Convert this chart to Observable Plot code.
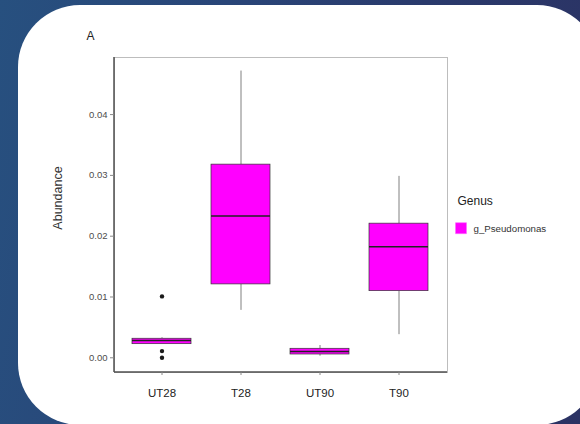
<!DOCTYPE html>
<html><head><meta charset="utf-8">
<script src="https://cdn.jsdelivr.net/npm/d3@7"></script>
<script src="https://cdn.jsdelivr.net/npm/@observablehq/plot@0.6"></script>
<style>
html,body{margin:0;padding:0;}
body{width:580px;height:424px;overflow:hidden;position:relative;
  background:linear-gradient(100deg,#27507f 0%,#294578 35%,#2a3a6c 65%,#2b3263 100%);}
#card{position:absolute;left:18px;top:5px;width:581px;height:420px;background:#fff;border-radius:62px;}
#chart{position:absolute;left:0;top:0;}
</style></head>
<body><div id="card"></div><div id="chart"></div>
<script>
const groups = ["UT28", "T28", "UT90", "T90"];
const whiskerLow = [0.00224, 0.0078, 0.00026, 0.0038];
const q1 = [0.00224, 0.01207, 0.00054, 0.01096];
const median = [0.00285, 0.02331, 0.00104, 0.01827];
const q3 = [0.00313, 0.03177, 0.00148, 0.02206];
const whiskerHigh = [0.0033, 0.04716, 0.00202, 0.02984];
const outlierGroup = ["UT28", "UT28", "UT28"];
const outlierValue = [0.0101, 0.0011, 0.0];
const yTicks = [0, 0.01, 0.02, 0.03, 0.04];
const genus = "g_Pseudomonas";
const titleText = "A";
const yLabel = "Abundance";
const legendTitle = "Genus";

const boxes = groups.map((g, i) => ({g, lo: whiskerLow[i], q1: q1[i], med: median[i], q3: q3[i], hi: whiskerHigh[i]}));
const outliers = outlierGroup.map((g, i) => ({g, v: outlierValue[i]}));
const font = "'Liberation Sans', Arial, sans-serif";

const axisLines = (index, scales, values, dims) => {
  const g = d3.create("svg:g").attr("stroke", "#505050").attr("stroke-width", 1.5);
  const x0 = dims.marginLeft, y1 = dims.height - dims.marginBottom;
  g.append("line").attr("x1", x0).attr("x2", x0).attr("y1", dims.marginTop).attr("y2", y1);
  g.append("line").attr("x1", x0).attr("x2", dims.width - dims.marginRight).attr("y1", y1).attr("y2", y1);
  return g.node();
};

const plot = Plot.plot({
  width: 580, height: 424,
  marginLeft: 114, marginRight: 133, marginTop: 57, marginBottom: 52,
  style: {background: "none", fontFamily: font},
  x: {type: "band", domain: groups, paddingInner: 0.25, paddingOuter: 0.225, align: 0.5},
  y: {domain: [-0.00242, 0.04939]},
  marks: [
    Plot.frame({stroke: "#bdbdbd"}),
    Plot.ruleX(boxes, {x: "g", y1: "lo", y2: "q1", stroke: "#808080", strokeWidth: 1}),
    Plot.ruleX(boxes, {x: "g", y1: "q3", y2: "hi", stroke: "#808080", strokeWidth: 1}),
    Plot.barY(boxes, {x: "g", y1: "q1", y2: "q3", fill: "#ff00ff", stroke: "#333", strokeWidth: 0.7}),
    Plot.tickY(boxes, {x: "g", y: "med", stroke: "#222", strokeWidth: 1.6}),
    Plot.dot(outliers, {x: "g", y: "v", r: 2.2, fill: "#1a1a1a"}),
    axisLines,
    Plot.axisY({ticks: yTicks, tickFormat: d3.format(".2f"), tickSize: 4, tickPadding: 3, label: null, fontSize: 9.5, fill: "#4d4d4d", stroke: "#888"}),
    Plot.axisX({tickSize: 3, tickPadding: 13.5, label: null, fontSize: 11.5, fill: "#222", stroke: "#888"}),
    Plot.text([titleText], {text: d => d, frameAnchor: "top-left", dx: -24, dy: -21, textAnchor: "middle", lineAnchor: "middle", fontSize: 12, fill: "#222"}),
    Plot.text([yLabel], {text: d => d, frameAnchor: "left", rotate: -90, dx: -57, dy: -17, textAnchor: "middle", lineAnchor: "middle", fontSize: 12.5, fill: "#333"}),
    Plot.text([legendTitle], {text: d => d, frameAnchor: "top-right", dx: 10, dy: 144, textAnchor: "start", lineAnchor: "middle", fontSize: 12, fill: "#222"}),
    Plot.dot([genus], {frameAnchor: "top-right", dx: 13.5, dy: 170.7, symbol: "square", r: 6.2, fill: "#ff00ff", stroke: "#ff66ff", strokeWidth: 0.5}),
    Plot.text([genus], {text: d => d, frameAnchor: "top-right", dx: 26, dy: 171, textAnchor: "start", lineAnchor: "middle", fontSize: 9.7, fill: "#333"})
  ]
});
document.getElementById("chart").appendChild(plot);
</script>
</body></html>
